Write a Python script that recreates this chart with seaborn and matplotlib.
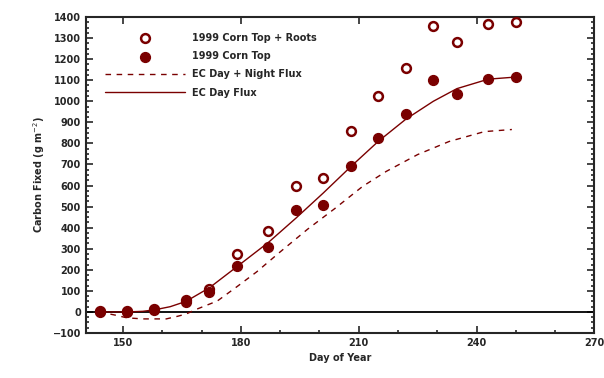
import numpy as np
import pandas as pd
import matplotlib
matplotlib.use("Agg")
import matplotlib.pyplot as plt
from matplotlib.ticker import MultipleLocator
import seaborn as sns

# sampling days and biomass harvests
days = [144, 151, 158, 166, 172, 179, 187, 194, 201, 208, 215, 222, 229, 235, 243, 250]
top_roots = [5, 5, 15, 55, 110, 275, 383, 600, 634, 861, 1026, 1159, 1358, 1282, 1367, 1376]
top = [0, 0, 10, 47, 95, 218, 307, 482, 506, 695, 828, 941, 1102, 1036, 1107, 1116]

# eddy covariance cumulative fluxes
ec_days = [144, 148, 151, 155, 158, 161, 164, 166, 169, 174, 179, 184, 190, 197, 204, 211, 217, 225, 233, 242, 249]
ec_day_night = [0, -15, -28, -33, -33, -33, -20, -10, 15, 52, 120, 190, 285, 393, 492, 596, 667, 747, 809, 856, 866]
ec_day_days = [144, 151, 155, 158, 162, 166, 172, 179, 187, 194, 201, 208, 215, 222, 229, 235, 243, 250]
ec_day = [0, 0, 3, 10, 25, 50, 115, 215, 330, 445, 565, 690, 810, 915, 1000, 1060, 1105, 1115]

red = "#7a0000"

sns.set_style("ticks")
plt.rcParams["font.family"] = ["DejaVu Sans"]
fig = plt.figure(figsize=(6.04, 3.78), dpi=100)
ax = fig.add_axes([0.142, 0.119, 0.842, 0.836])

ax.axhline(0, color="black", lw=1.3, zorder=1)

sns.lineplot(x=ec_days, y=ec_day_night, ax=ax, color=red, lw=1.0,
             linestyle=(0, (4, 4)), label="EC Day + Night Flux", zorder=2)
sns.lineplot(x=ec_day_days, y=ec_day, ax=ax, color=red, lw=1.0,
             label="EC Day Flux", zorder=2)
sns.scatterplot(x=days, y=top_roots, ax=ax, marker="o", s=40,
                facecolor="white", edgecolor=red, linewidth=1.8,
                label="1999 Corn Top + Roots", zorder=3)
sns.scatterplot(x=days, y=top, ax=ax, marker="o", s=50,
                color=red, edgecolor=red, linewidth=1,
                label="1999 Corn Top", zorder=4)

ax.set_xlim(140.5, 270)
ax.set_ylim(-100, 1400)
ax.xaxis.set_major_locator(MultipleLocator(30))
ax.xaxis.set_minor_locator(MultipleLocator(10))
ax.yaxis.set_major_locator(MultipleLocator(100))
ax.yaxis.set_minor_locator(MultipleLocator(25))
ax.tick_params(which="both", direction="in", top=True, right=True,
               labelsize=7, width=1.2)
ax.tick_params(which="major", length=5)
ax.tick_params(which="minor", length=2.5)
ax.tick_params(axis="x", which="minor", top=False)
for lab in ax.get_xticklabels() + ax.get_yticklabels():
    lab.set_fontweight("bold")
for s in ax.spines.values():
    s.set_linewidth(1.5)

ax.set_xlabel("Day of Year", fontsize=7, fontweight="bold")
ax.set_ylabel("Carbon Fixed (g m$^{-2}$)", fontsize=7, fontweight="bold")

h, l = ax.get_legend_handles_labels()
order = [2, 3, 0, 1]
ax.legend([h[i] for i in order], [l[i] for i in order], loc="upper left",
          bbox_to_anchor=(0.03, 0.962), borderaxespad=0, frameon=False,
          handlelength=8.2, labelspacing=0.85,
          prop={"weight": "bold", "size": 7})

fig.savefig("out.png", dpi=100)
